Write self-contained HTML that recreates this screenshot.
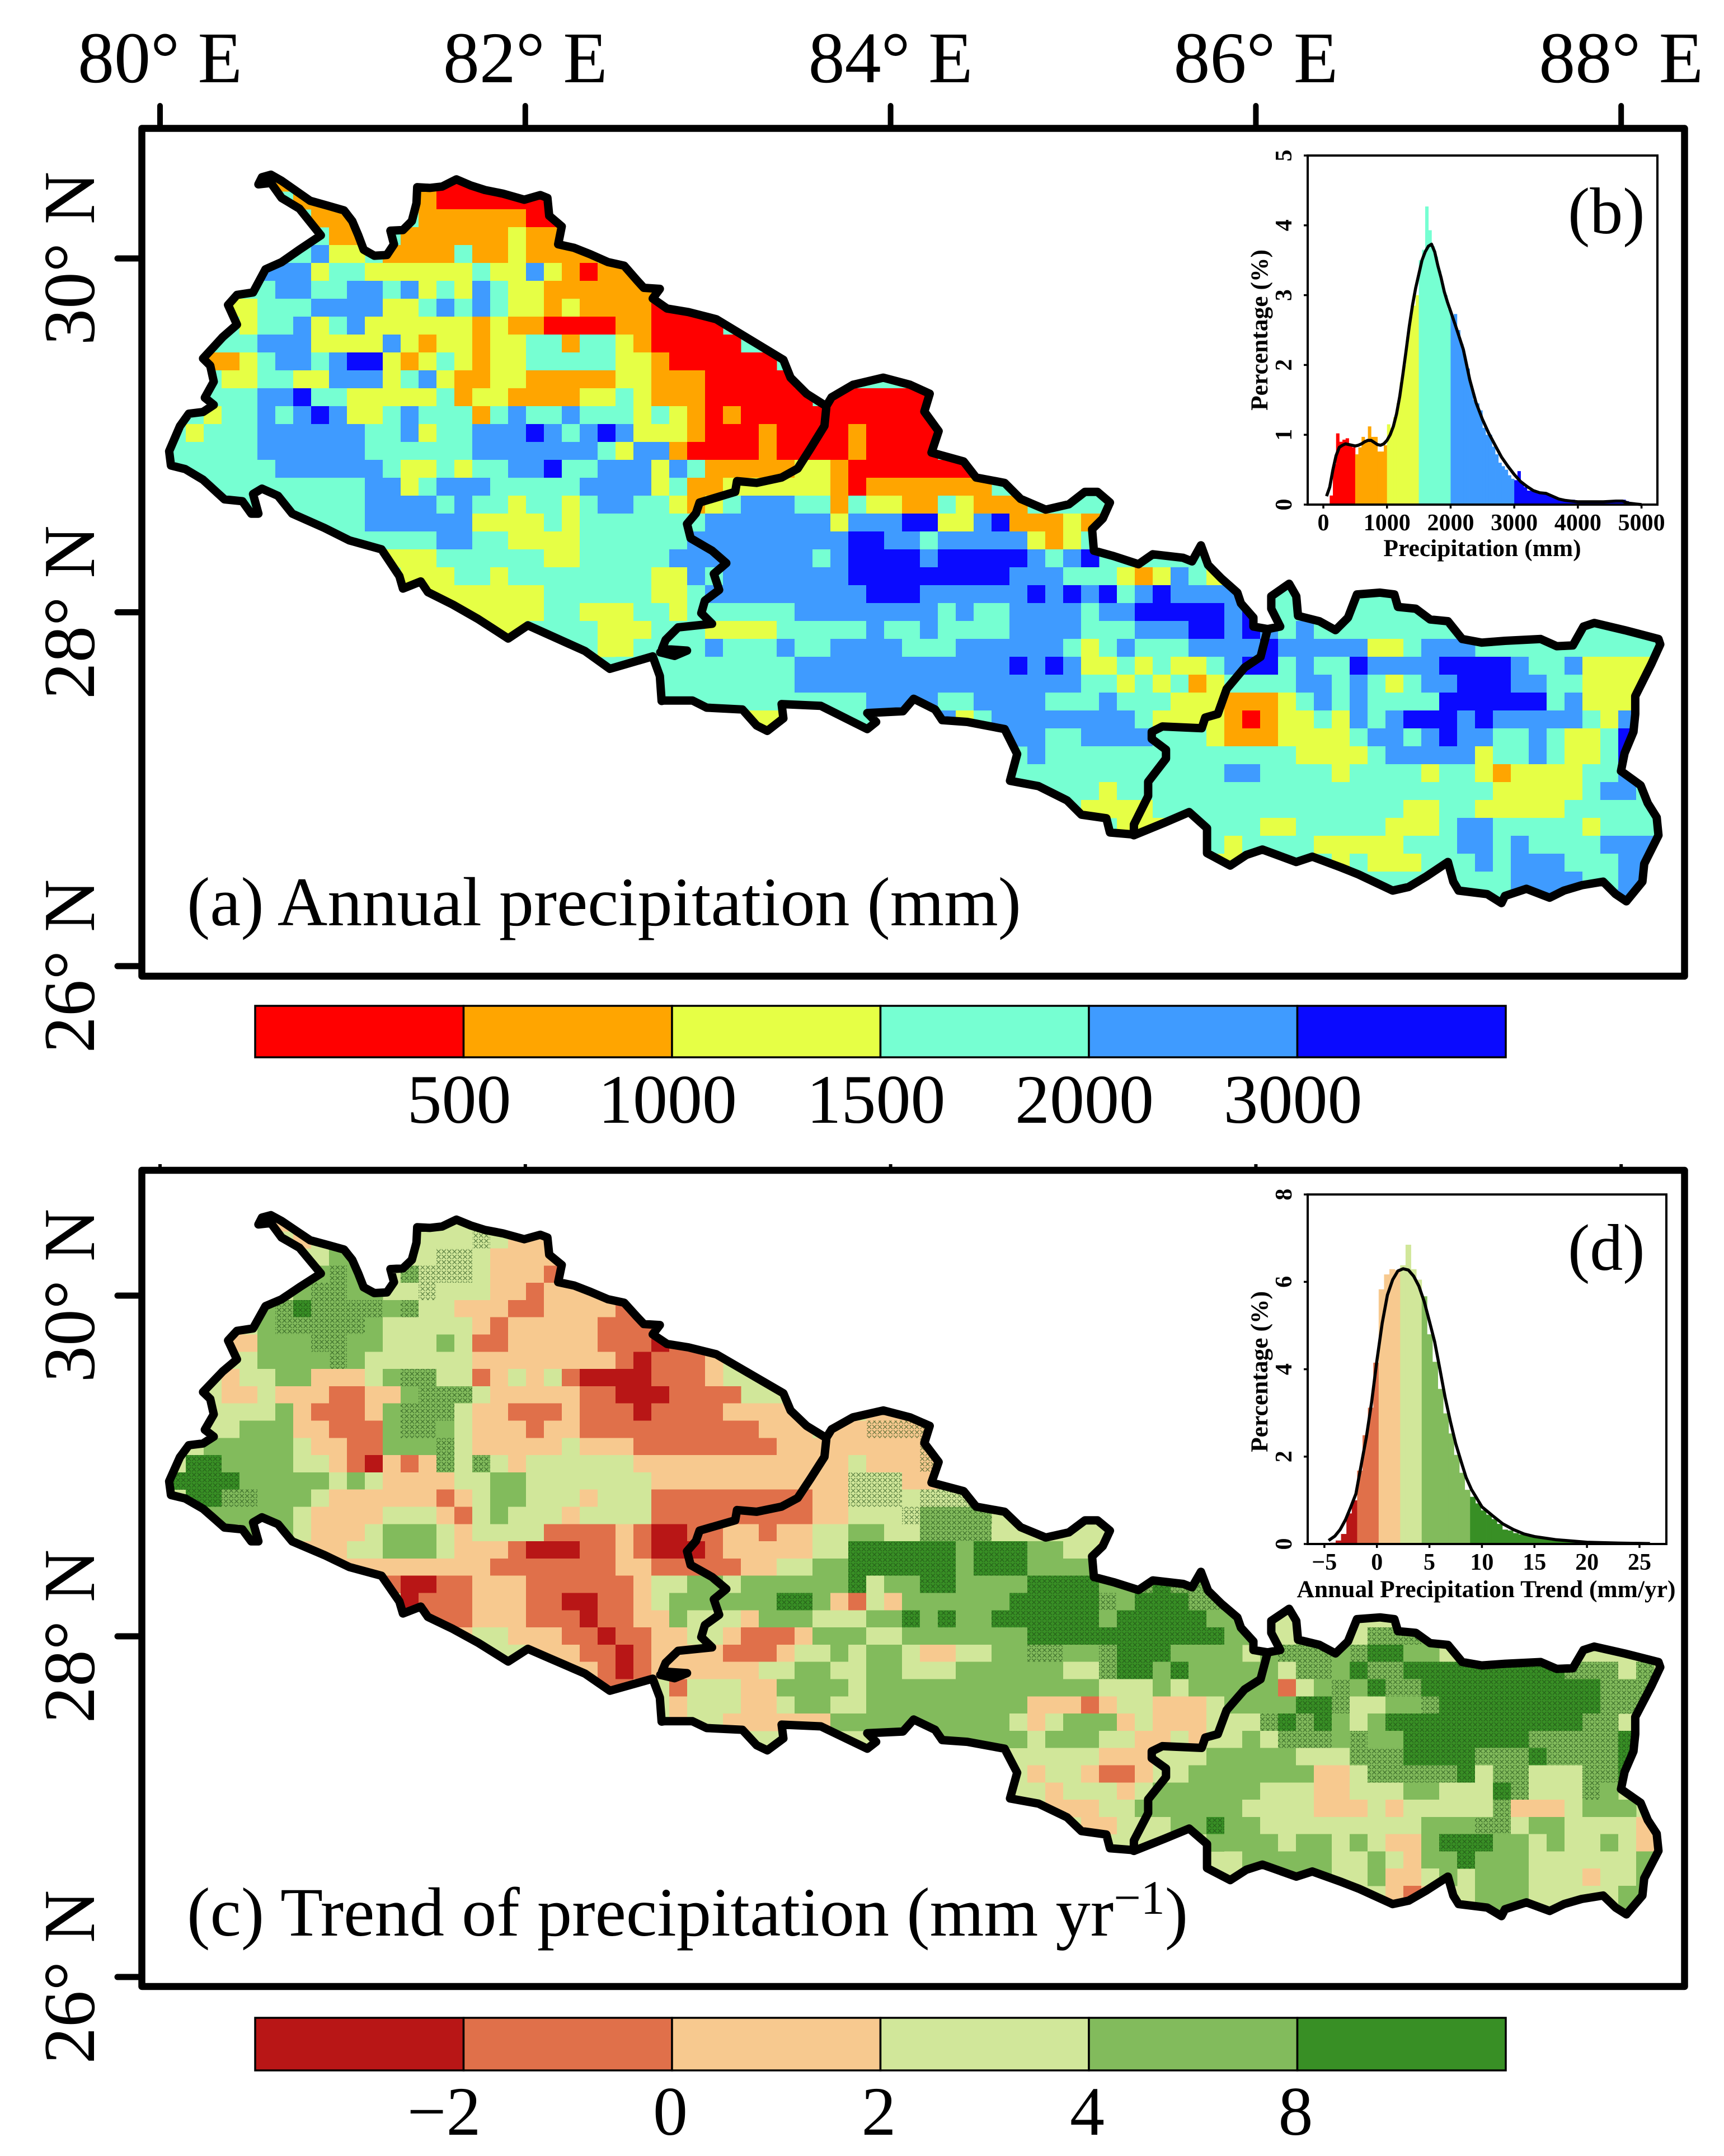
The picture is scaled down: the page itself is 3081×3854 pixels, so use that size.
<!DOCTYPE html>
<html lang="en">
<head>
<meta charset="utf-8">
<title>Nepal annual precipitation and trend</title>
<style>
html,body{margin:0;padding:0;background:#fff;}
svg{display:block;}
text{font-family:"Liberation Serif",serif;fill:#000;}
.inset{font-weight:bold;font-size:42px;}
.insetTitle{font-weight:bold;font-size:43.5px;}
</style>
</head>
<body>
<svg id="figure" xmlns="http://www.w3.org/2000/svg" width="3081" height="3854" viewBox="0 0 3081 3854">
<defs>
<pattern id="hatch" width="9.5" height="9.5" patternUnits="userSpaceOnUse">
<path d="M1 1L8.5 8.5M8.5 1L1 8.5" stroke="#1d4a14" stroke-width="1.3" stroke-opacity="0.62" fill="none"/>
</pattern>
</defs>
<rect x="0" y="0" width="3081" height="3854" fill="#fff"/>
<g id="mapA"></g>
<g id="mapC"></g>
<rect x="253.5" y="229.5" width="2757" height="1515.5" fill="none" stroke="#000" stroke-width="12.5" stroke-linejoin="round"/>
<rect x="253.5" y="2092" width="2757" height="1459" fill="none" stroke="#000" stroke-width="12.5" stroke-linejoin="round"/>
<g id="axes"></g>
<text x="334" y="1654" font-size="124">(a) Annual precipitation (mm)</text>
<text x="334" y="3460" font-size="124.5">(c) Trend of precipitation (mm yr<tspan dy="-39" font-size="86">−1</tspan><tspan dy="39">)</tspan></text>
<g id="barA"></g>
<g id="barC"></g>
<g id="histB"></g>
<g id="histD"></g>
<text x="2802" y="417" font-size="118">(b)</text>
<text x="2802" y="2270" font-size="118">(d)</text>
<text class="insetTitle" x="2649" y="994" text-anchor="middle">Precipitation (mm)</text>
<text class="insetTitle" x="2656" y="2855" text-anchor="middle">Annual Precipitation Trend (mm/yr)</text>
<text class="insetTitle" transform="translate(2265 590) rotate(-90)" text-anchor="middle">Percentage (%)</text>
<text class="insetTitle" transform="translate(2265 2452) rotate(-90)" text-anchor="middle">Percentage (%)</text>
</svg>
<script>
/* ---------- chart data ---------- */
const lonTicks = [80, 82, 84, 86, 88];
const latTicks = [30, 28, 26];

const precipBreakLabels = ["500", "1000", "1500", "2000", "3000"];
const trendBreakLabels = ["−2", "0", "2", "4", "8"];
const precipPalette = ["#ff0000", "#ffa500", "#e6ff45", "#76ffd2", "#3f9bff", "#0a0aff"];
const trendPalette = ["#b81616", "#e0704a", "#f7c98f", "#d1e79a", "#82bb5c", "#388f25"];

/* precipitation class per grid cell: r<500 o<1000 y<1500 t<2000 b<3000 d>=3000; "start|cells" */
const precipCells = [
"6|oo......rrrrrrrr",
"7|oo.....orrrrrrr",
"8|ooo...oooooorro",
"9|oo..ooooooyoo",
"7|tbyy.ooootooyoooo",
"5|bbbyttyyyyyytyybyoroo",
"5|tbbttbbtbytybtyyooooooo",
"3|yytttbbbbyytbtbtyyoyoooorrr",
"3|tyttbytbyyyyyyoyoorrrroorrrr",
"3|ttbbbyyyybyoyyoyyttottyorrrrr",
"2|ooytbbtbddyoytyoyytttttyyorrrrrr",
"2|tyyttyybbbytbyooyyoooooyyooorrrrr",
"2|tttbbdttyyyyytoyyooooyytyooorrrrrr.rrrrrr",
"1|tyttbtbdbyytbtttotbttbtttytyororrrrrrrrrrr",
"1|ytttbbbbbbttbyttbbbdbtbdbyyyorrrorrrrorrrrr",
"0|tttttbbbbbbttttttbbbbbbbtybborrrrorrrrorrrr",
"0|ttttttbbbbbbtyytyttbbdttbbbybtoooooyyorrrrrrr",
"2|tttttttttbbytbbbtttttbbbbytooyyyyyyorooooooo",
"3|ttttttttbbbbtbttyttytbbttyoytbbbttotyyootyooo",
"7|ttttbbbbbbyyyytytttttttbbbbbbbybbbddyybdoooyoo",
"9|ttttttbbttyyyyttttttbbbbbbbbbddbbtbbbbbyoyt",
"12|yyyttttttyytttttbbbbbbbbtbddddbdddddbtbd",
"13|yyyttyttttttttyybtbbbbbbbdddddddddbbbtttyoybty",
"14|yyyyyyyttttttyytbbbbbbbbbdddbbbbbbdbdbdtbdbbbb",
"16|yyyyyttyyyttyttttttbbbbbbbbtbttbbbbtbbdddddbd",
"18|yyttttyyytttyyyytttttbttbttttbbbbtttbbbddbdbtbt",
"23|tyyt.ttbtttbttbbbbtttbbbbbbtytbtttbbbbdbbbbbyytbbb",
"25|tt.tttttttbbbbbbbbbbbbdbdbyytytyytbddtbttdbbbbddddbttbyyyyt",
"28|tttttttbbbbbbbbbbbbbbbbttytytoyttttbbtbtytbbdddbbttyyyy",
"28|tttttttttttbbbbttbbbbtttbtttyyyoooytbtbttttddddddtbyyyt",
"30|ttyyyttttttttbytbbbbbbbbtyyyyoroyytybtbdddbdbbbbbtyb",
"33|yy...........bbbttbbbbtttyoooyyyytbbtbdbbttbtyytdb",
"48|bttttttttttttttyyyytbbbbbyttbtyytd",
"48|tttttttttttbbttttyttttyttyoyyyyttb",
"49|tttytttttttttttttttttttttyyyyytbbtt",
"51|yyyyttttttttttttttyyttyyyyyttttt",
"53|yyyyttttyytttttyyytbbtttttytttb",
"54|yy...yttttyyyyytttbbtbttttbbbb",
"58|yyyttttytyyytttbtbbbtttbbb",
"64|ttttttt..ttbbbbttbb",
"68|tt...ttbbbbbbbb",
"74|tbbbbbbb"
];

/* trend class per grid cell: R<-2 E<0 p<2 l<4 g<8 D>=8; upper-case G L P = hatched (significant) */
const trendCells = [
"6|pp......lllllppp",
"7|pl.....lllLlppp",
"8|lgg...lLLlpppp",
"8|gGg..GLLLlpppE",
"7|gGGgg.lLlllppEppppp",
"5|gGDGGGGgGllpppEEppppEE",
"5|gGGGGGglllllpEpppppEEEE",
"3|ppgggGGgglllglEEpppppEEEREE",
"3|llggggGgllllllppppppppEREEEp",
"3|pllggppplgGGllEplplERRRREEEp",
"2|lpplpppEEppgGGGlpppppEERRREEEE",
"2|llllgpEEEpgGGGlppEEEpEEEREEEEpppp....ppp",
"2|llgggppEEEgGGglpppEppEEEEEEEEEEppp.ppPPPP",
"1|lggggglppEEgggGlppppplpppEEEEEEEEppppppppP",
"1|DDggggllpERpEpGlGlpllllllpppppppppppplpppPL",
"0|DDDDggggglglppppllgglllllllpppppppppppLLLpp",
"1|DDGGggglppppppEplgglllplllEEEEEEEEEppLLLlLLL",
"2|ggggglpppplllpElglllpllllEEEEEEEEEpplllLGGGG",
"4|ggglppplggglpllllEEEEpERREEppEppllggllGGGGl",
"7|pppllggglpppERRREEpERRREpppppllDDDDDDgDDDggllp",
"9|pppppppppEEEEEEEppEEEEEppllggDDDDDDgDDDgggg",
"12|ERREEpppEEEEEEpllgglggggggDlggDDggggDDDDggGDGGL",
"13|REEEpppEERREEplggggggDDgpElpggggggDDDDDGgDDDGGg",
"14|EEEpppEEEREEppglllpggglllggDgDggDDDDDDgDDDDDgg",
"16|pllpppEEREEppllpEEEpgggllgggggggDDDDDDDDDDDgg.lg...GGGgg",
"18|llpppEEREppppEEEpllglgglppllggGGggGDDDgggg.gGGGgGDDgg",
"20|ppppEREppppppllggllgglllggggggllGDDgDggggglGGgDGGDDDDDDDDDGGGlG",
"23|pEEp.Elllppggggl"+"gggggggggggggll"+"lglgggggElgGgDGGDDDDDDDDDDGGG",
"28|plllpplggllgggggggggpppEpllppplggggDDGllggGDDDDDDDDDGGG",
"28|pllppppppgggggggggglplgggplppplllGDGDglgDDDDDDDDDDDGG",
"43|ggggglgggllpplpl.glGGGgGggDDDDDDDGGGGGD",
"48|llllppp.llggggglllGGGDDDDGGGDGGGGD",
"48|pllpEEp.lgggggggpplGGGGGDlGGlllGGD",
"48|lplllplgggggglllpplllgglllDGlllGg",
"49|pppllggggggllllppplplllllGppplggg",
"51|pplllggDgglllllllllgggGGlggllllpp",
"53|llll.gggglgglglppgDDDgglgllglpp",
"59|lgggggllglpggDgggllllllgg",
"62|gggllgpplg.ggglllpllg",
"68|pEp..ggglllllgg",
"73|ggglllllg",
"75|lllllg"
];

/* histogram (b) */
const precipBinFrom = 100;
const precipBinWidth = 50;
const precipPercent = [0.13,0.58,1.02,0.9,0.93,0.95,0.85,0.82,0.72,0.82,0.97,0.92,1.12,0.97,0.97,0.76,0.76,0.85,1.15,1.1,1.25,1.45,1.75,2.0,2.4,2.7,2.85,3.0,3.5,3.65,4.27,3.93,3.7,3.55,3.35,3.15,3.0,2.8,2.7,2.73,2.5,2.3,2.1,1.95,1.7,1.5,1.45,1.35,1.1,1.0,1.0,0.83,0.72,0.6,0.55,0.5,0.42,0.37,0.35,0.48,0.32,0.25,0.2,0.2,0.18,0.16,0.15,0.17,0.15,0.13,0.1,0.08,0.07,0.07,0.06,0.05,0.07,0.06,0.05,0.05,0.04,0.04,0.04,0.04,0.04,0.04,0.05,0.05,0.04,0.04,0.06,0.06,0.07,0.05,0.03,0.02,0.01];
const precipBreaks = [500, 1000, 1500, 2000, 3000];
const precipCurveX = [50,100,150,200,250,300,350,400,450,500,550,600,650,700,750,800,850,900,950,1000,1050,1100,1150,1200,1250,1300,1350,1400,1450,1500,1550,1600,1650,1700,1750,1800,1850,1900,1950,2000,2100,2200,2300,2400,2500,2600,2700,2800,2900,3000,3100,3200,3300,3400,3500,3600,3700,3800,3900,4000,4200,4400,4600,4700,4800,4900,5000];
const precipCurveY = [0.12,0.25,0.5,0.7,0.82,0.85,0.87,0.86,0.85,0.84,0.85,0.87,0.9,0.92,0.92,0.89,0.86,0.85,0.87,0.92,1.0,1.12,1.3,1.55,1.87,2.2,2.55,2.85,3.1,3.3,3.5,3.62,3.7,3.73,3.62,3.42,3.25,3.05,2.9,2.77,2.5,2.22,1.79,1.46,1.22,1.02,0.85,0.68,0.55,0.43,0.33,0.26,0.2,0.17,0.16,0.12,0.08,0.06,0.05,0.04,0.04,0.04,0.05,0.05,0.02,0.01,0];
const precipXTicks = [0,1000,2000,3000,4000,5000];
const precipYTicks = [0,1,2,3,4,5];

/* histogram (d) */
const trendBinFrom = -4.44;
const trendBinWidth = 0.512;
const trendPercent = [0.03,0.08,0.23,0.7,1.0,1.68,2.49,3.12,4.15,5.83,6.17,6.29,6.27,6.38,6.85,6.29,6.05,5.67,4.8,4.17,3.55,2.99,2.53,2.04,1.63,1.24,1.08,0.93,0.77,0.67,0.57,0.46,0.33,0.31,0.25,0.22,0.23,0.18,0.15,0.12,0.1,0.08,0.07,0.06,0.05,0.04,0.03,0.03,0.03,0.03,0.03,0.02,0.02,0.02,0.02,0.02,0.01,0.01,0.01,0.01];
const trendBreaks = [-1.94, 0.11, 2.16, 4.27, 8.38];
const trendCurveX = [-4.6,-4,-3.5,-3,-2.5,-2,-1.5,-1,-0.5,0,0.5,1,1.5,2,2.5,3,3.5,4,4.5,5,5.5,6,6.5,7,7.5,8,8.5,9,10,11,12,13,14,15,17,20,23,26];
const trendCurveY = [0.08,0.18,0.33,0.55,0.84,1.15,1.8,2.45,3.25,4.2,5.05,5.7,6.05,6.25,6.3,6.27,6.13,5.9,5.55,5.1,4.63,4.0,3.35,2.8,2.3,1.9,1.52,1.25,0.85,0.65,0.46,0.33,0.23,0.17,0.1,0.04,0.02,0.01];
const trendXTicks = [-5,0,5,10,15,20,25];
const trendYTicks = [0,2,4,6,8];

/* traced boundary vertices, grouped by the source region they were traced in */
const northWest = [285,62,295,42,320,35,350,52,390,80,430,108,480,122,525,135,548,165,565,205,580,245,610,262,645,260,665,230,655,192,690,190,715,165,728,115,730,70,765,72,800,68,840,48,880,65,920,78,970,88,1030,105,1075,92,1095,100,1100,150,1135,180,1125,230,1170,240,1215,258,1265,280,1310,290,1345,330,1365,352,1410,355,1390,382,1430,410,1490,420,1568,440];
const northCentral = [345,5,365,55,410,100,465,135,480,110,540,75,625,55,700,75,755,100,740,150,780,205,760,265,850,290,885,335,965,350,1010,395,1080,425,1145,410,1190,375,1225,375,1260,405,1240,450,1210,480,1215,540,1270,555,1340,578,1380,550,1465,560,1490,570,1515,525,1535,580];
const eastLoop = [255,210,300,250,310,280,345,320,345,345,385,352,420,345,395,295,395,260,445,225,465,260,470,315,530,330,575,355,610,320,635,255,700,250,740,255,750,290,800,295,840,325,890,330,930,380,985,390,1050,385,1150,380,1195,400,1240,398,1270,345,1300,335,1385,355,1480,380,1485,395,1460,450,1415,540,1415,590,1410,640,1385,700,1375,750,1430,790,1450,840,1475,880,1480,930,1440,1010,1435,1060,1390,1115,1360,1095,1325,1060,1265,1070,1215,1085,1175,1105,1110,1080,1050,1100,1040,1120,1000,1095,920,1085,905,1060,890,1005,830,1045,780,1075,735,1085,640,1040,590,1020,510,990,465,1005,370,970,325,985,280,1015,215,980,215,910,165,865,95,895,10,930];
const southCentral = [1320,1335,1260,1330,1250,1290,1180,1280,1140,1240,1060,1200,980,1185,1000,1110,965,1040,860,1020,790,1015,770,985,710,955,680,990,580,995,605,1020,580,1040,450,975,340,970,345,1010,300,1045,270,1030,230,985,130,980,90,960,10,960];
const southWest = [1415,1510,1410,1440,1390,1385,1270,1420,1200,1370,1100,1325,1040,1298,985,1335,900,1280,830,1240,760,1205,740,1175,690,1195,680,1160,630,1085,540,1060,470,1025,380,985,340,935,295,915,270,930,285,985,265,985,240,950,190,945,130,890,80,860,40,850,35,810,65,740,90,705,130,700,160,680,135,660,160,615,150,570,130,550,185,490,225,455,200,400,225,372,270,365,305,300,350,280,400,245,460,205,400,130,350,100,320,58];
const borderWestCentral = [465,140,460,190,420,255,385,310,340,335,270,350,215,345,210,375,110,405,100,435,75,465,85,505,145,540,185,575,150,605,165,650,125,680,115,715,145,745,50,755,15,790,5,815,75,820,40,835,0,825];
const borderCentralEast = [385,352,365,430,320,460,270,520,245,590,210,600,200,630,90,625,60,640,60,660,100,690,100,715,50,780,50,820,10,900,10,930];

/* ---------- helpers ---------- */
const NS = "http://www.w3.org/2000/svg";
function mk(tag, attrs, parent, text) {
  const n = document.createElementNS(NS, tag);
  for (const k in attrs) n.setAttribute(k, attrs[k]);
  if (text !== undefined) n.textContent = text;
  parent.appendChild(n);
  return n;
}
function trace(points, ox, oy) {
  const out = [];
  for (let i = 0; i < points.length; i += 2) out.push([ox + points[i] / 1.568, oy + points[i + 1] / 1.568]);
  return out;
}
const outerRing = [].concat(trace(northWest, 280, 290), trace(northCentral, 1180, 640), trace(eastLoop, 2020, 900), trace(southCentral, 1180, 640), trace(southWest, 280, 290));
const westBorder = trace(borderWestCentral, 1180, 640);
const eastBorder = trace(borderCentralEast, 2020, 900);

const xLon = function (lon) { return 286 + 326.4 * (lon - 80); };
const yIdentity = function (y) { return y; };
const yTrend = function (y) { return 2092 + (y - 229) * (1459 / 1516); };
function ptsAttr(ring, yMap) { return ring.map(function (p) { return p[0].toFixed(1) + "," + yMap(p[1]).toFixed(1); }).join(" "); }

/* ---------- maps ---------- */
const cellSize = 32, gridLeft = 300, gridTop = 310;
function drawMap(groupId, rows, classes, palette, baseColor, yMap, clipId) {
  const g = document.getElementById(groupId);
  const defs = document.querySelector("defs");
  const clip = mk("clipPath", { id: clipId }, defs);
  mk("polygon", { points: ptsAttr(outerRing, yMap) }, clip);
  const base = mk("polygon", { points: ptsAttr(outerRing, yMap), fill: baseColor }, g);
  
  
  const cells = mk("g", { "clip-path": "url(#" + clipId + ")", "shape-rendering": "crispEdges" }, g);
  
  
  rows.forEach(function (row, r) {
    const parts = row.split("|");
    const start = +parts[0];
    const y0 = yMap(gridTop + r * cellSize), y1 = yMap(gridTop + (r + 1) * cellSize);
    for (let i = 0; i < parts[1].length; i++) {
      const code = parts[1][i];
      if (code === ".") continue;
      const idx = classes.indexOf(code.toLowerCase());
      const hatched = code === "G" || code === "L" || code === "P" || code === "D";
      const cx = gridLeft + (start + i) * cellSize;
      const cell = mk("rect", { x: cx, y: y0.toFixed(1), width: cellSize + 0.5, height: (y1 - y0 + 0.5).toFixed(1), fill: palette[idx < 0 ? classes.indexOf(code) : idx] }, cells);
      
      
      if (hatched) {
        const h = mk("rect", { x: cx, y: y0.toFixed(1), width: cellSize + 0.5, height: (y1 - y0 + 0.5).toFixed(1), fill: "url(#hatch)" }, cells);
        
        
      }
    }
  });
  const common = { fill: "none", stroke: "#000", "stroke-width": 15, "stroke-linejoin": "round", "stroke-linecap": "round" };
  const outer = mk("polygon", Object.assign({ points: ptsAttr(outerRing, yMap) }, common), g);
  
  
  const wb = mk("polyline", Object.assign({ points: ptsAttr(westBorder, yMap) }, common), g);
  
  
  const eb = mk("polyline", Object.assign({ points: ptsAttr(eastBorder, yMap) }, common), g);
  
  
}
drawMap("mapA", precipCells, ["r", "o", "y", "t", "b", "d"], precipPalette, precipPalette[3], yIdentity, "clipA");
drawMap("mapC", trendCells, ["R", "E", "p", "l", "g", "D"], trendPalette, trendPalette[3], yTrend, "clipC");

/* ---------- map axes ---------- */
const axes = document.getElementById("axes");
lonTicks.forEach(function (lon) {
  const t = mk("line", { x1: xLon(lon), x2: xLon(lon), y1: 189, y2: 226, stroke: "#000", "stroke-width": 10, "stroke-linecap": "round" }, axes);
  
  
  const l = mk("text", { x: xLon(lon), y: 147, "font-size": 130, "text-anchor": "middle" }, axes, lon + "° E");
  
  
  const m = mk("line", { x1: xLon(lon), x2: xLon(lon), y1: 2081, y2: 2088, stroke: "#000", "stroke-width": 6 }, axes);
  
  
});
const latA = function (lat) { return 462 + 316.25 * (30 - lat); };
const latC = function (lat) { return 2316 + 304.5 * (30 - lat); };
[latA, latC].forEach(function (yLat) {
  latTicks.forEach(function (lat) {
    const t = mk("line", { x1: 210, x2: 250, y1: yLat(lat), y2: yLat(lat), stroke: "#000", "stroke-width": 11, "stroke-linecap": "round" }, axes);
    
    
    const l = mk("text", { transform: "translate(168 " + yLat(lat) + ") rotate(-90)", "font-size": 131, "text-anchor": "middle" }, axes, lat + "° N");
    
    
  });
});

/* ---------- colour bars ---------- */
const barLeft = 456, barStep = 372.5;
function drawBar(groupId, palette, labels, top, bottom, baseline, shift) {
  const g = document.getElementById(groupId);
  palette.forEach(function (c, i) {
    const s = mk("rect", { x: barLeft + i * barStep, y: top, width: barStep, height: bottom - top, fill: c, stroke: "#000", "stroke-width": 3.5 }, g);
    
    
  });
  labels.forEach(function (txt, i) {
    const negative = txt.charAt(0) === "−";
    const l = mk("text", { x: barLeft + (i + 1) * barStep - shift - (negative ? 32 : 0), y: baseline, "font-size": 124, "text-anchor": "middle" }, g, txt);
    
    
  });
}
drawBar("barA", precipPalette, precipBreakLabels, 1798, 1890, 2007, 8);
drawBar("barC", trendPalette, trendBreakLabels, 3607, 3701, 3816, 3);

/* ---------- histograms ---------- */
function drawHist(o) {
  const g = document.getElementById(o.id);
  const clsOf = function (v) { let k = 0; while (k < o.breaks.length && v >= o.breaks[k]) k++; return k; };
  o.values.forEach(function (val, i) {
    const v0 = o.from + i * o.width;
    const b = mk("rect", { x: o.x(v0).toFixed(2), y: o.y(val).toFixed(2), width: (o.x(v0 + o.width) - o.x(v0) + 0.4).toFixed(2), height: (o.y(0) - o.y(val)).toFixed(2), fill: o.palette[clsOf(v0 + o.width * 0.02)] }, g);
    
    
  });
  const line = mk("polyline", { points: o.cx.map(function (v, i) { return o.x(v).toFixed(1) + "," + o.y(o.cy[i]).toFixed(1); }).join(" "), fill: "none", stroke: "#000", "stroke-width": 5.5, "stroke-linejoin": "round" }, g);
  
  
  const fr = mk("rect", { x: o.left, y: o.y(o.yMax), width: o.right - o.left, height: o.y(0) - o.y(o.yMax), fill: "none", stroke: "#000", "stroke-width": 4 }, g);
  
  
  o.xt.forEach(function (v) {
    const t = mk("line", { x1: o.x(v), x2: o.x(v), y1: o.y(0), y2: o.y(0) + 7, stroke: "#000", "stroke-width": 3.5 }, g);
    
    
    const l = mk("text", { class: "inset", x: o.x(v), y: o.y(0) + 46, "text-anchor": "middle" }, g, String(v).replace("-", "−"));
    
    
  });
  o.yt.forEach(function (v) {
    const t = mk("line", { x1: o.left - 7, x2: o.left, y1: o.y(v), y2: o.y(v), stroke: "#000", "stroke-width": 3.5 }, g);
    
    
    const l = mk("text", { class: "inset", transform: "translate(2308 " + o.y(v) + ") rotate(-90)", "text-anchor": "middle" }, g, String(v));
    
    
  });
}
drawHist({ id: "histB", x: function (v) { return 2365 + v * 0.11372; }, y: function (p) { return 902 - p * 124.8; }, from: precipBinFrom, width: precipBinWidth, values: precipPercent, breaks: precipBreaks, palette: precipPalette, cx: precipCurveX, cy: precipCurveY, left: 2337, right: 2962, yMax: 5, xt: precipXTicks, yt: precipYTicks });
drawHist({ id: "histD", x: function (v) { return 2460.7 + v * 18.77; }, y: function (p) { return 2760 - p * 78.1; }, from: trendBinFrom, width: trendBinWidth, values: trendPercent, breaks: trendBreaks, palette: trendPalette, cx: trendCurveX, cy: trendCurveY, left: 2337, right: 2978, yMax: 8, xt: trendXTicks, yt: trendYTicks });
</script>
</body>
</html>
